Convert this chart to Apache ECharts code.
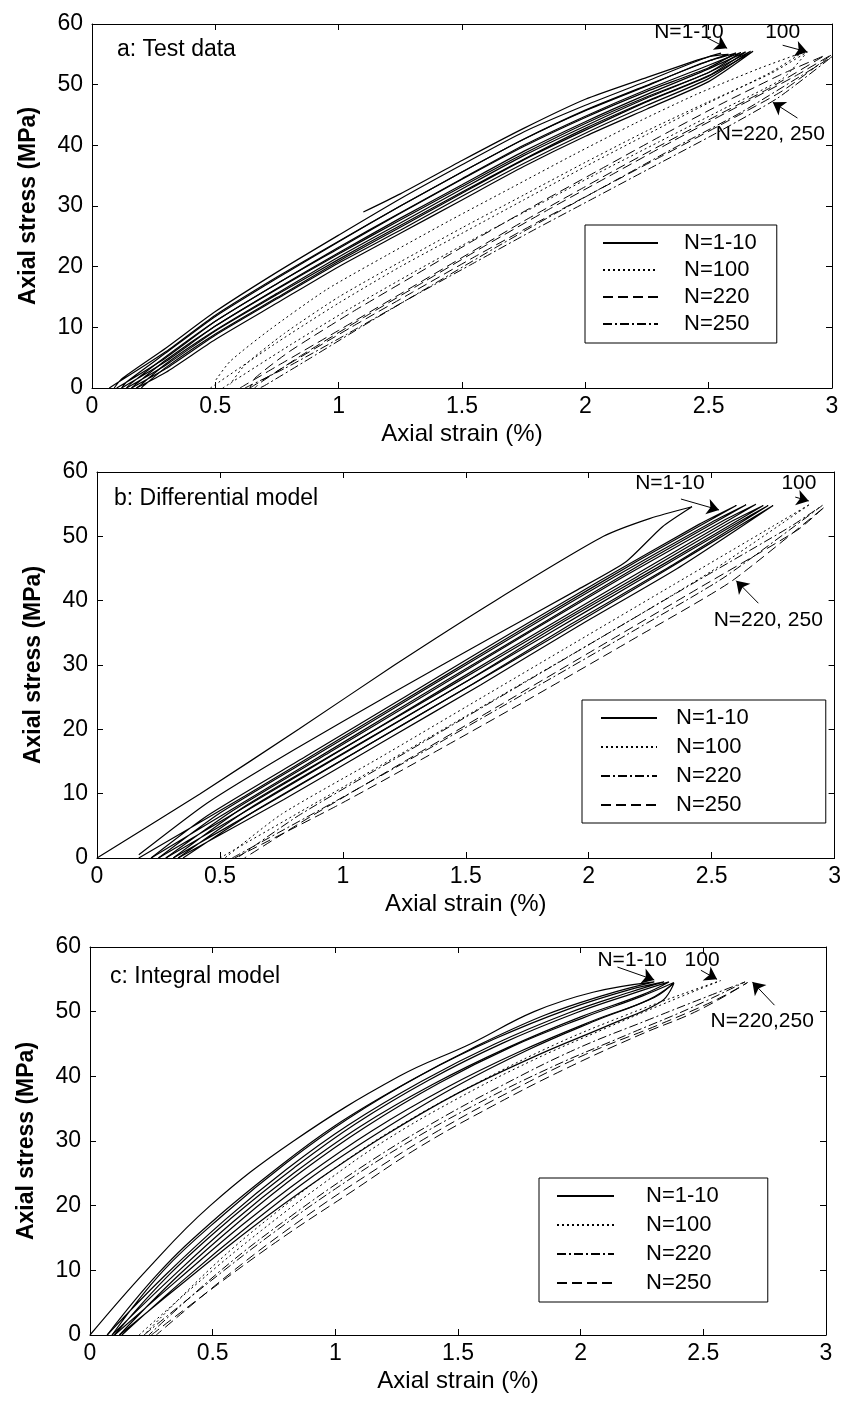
<!DOCTYPE html>
<html>
<head>
<meta charset="utf-8">
<script src="https://cdn.jsdelivr.net/npm/echarts@6/dist/echarts.min.js"></script>
<style>
  html, body { margin: 0; padding: 0; background: #fff; }
  #chart { width: 844px; height: 1407px; }
</style>
</head>
<body>
<div id="chart"></div>
<script>
// Axial strain (%) / axial stress (MPa) hysteresis loops, one array of loops per cycle group.

// ---- a: Test data ----
const testN1_10 = [
  [[0.07,0],[0.3,6],[0.5,12],[0.75,18.3],[1.0,24.2],[1.25,30],[1.5,35.6],[1.75,41],[2.0,45.7],[2.25,49.8],[2.45,53.2],[2.58,55],
   [2.5,54.6],[2.25,50.6],[2.0,46.6],[1.75,42.2],[1.5,36.8],[1.25,31.2],[1.0,25.2],[0.75,19.1],[0.5,12.6],[0.3,6.6],[0.12,1.5],[0.09,0]],
  [[0.1,0],[0.3,5],[0.5,11],[0.75,17.2],[1.0,23],[1.25,28.8],[1.5,34.4],[1.75,39.8],[2.0,44.6],[2.25,48.9],[2.5,52.8],[2.61,55.2],
   [2.5,53.9],[2.25,49.9],[2.0,45.8],[1.75,41],[1.5,35.6],[1.25,30],[1.0,24.1],[0.75,18.1],[0.5,11.8],[0.3,5.8],[0.14,1],[0.12,0]],
  [[0.12,0],[0.3,4.4],[0.5,10.2],[0.75,16.3],[1.0,22.1],[1.25,27.7],[1.5,33.2],[1.75,38.6],[2.0,43.6],[2.25,48],[2.5,52],[2.63,55.3],
   [2.5,53.2],[2.25,49.2],[2.0,44.8],[1.75,40],[1.5,34.5],[1.25,28.9],[1.0,23.2],[0.75,17.2],[0.5,11],[0.3,5.2],[0.16,0.8],[0.14,0]],
  [[0.14,0],[0.3,3.8],[0.5,9.4],[0.75,15.4],[1.0,21.2],[1.25,26.8],[1.5,32.3],[1.75,37.7],[2.0,42.8],[2.25,47.3],[2.5,51.5],[2.65,55.4],
   [2.5,52.6],[2.25,48.4],[2.0,43.9],[1.75,39],[1.5,33.5],[1.25,28],[1.0,22.3],[0.75,16.4],[0.5,10.2],[0.3,4.6],[0.18,0.7],[0.16,0]],
  [[0.16,0],[0.3,3.2],[0.5,8.7],[0.75,14.7],[1.0,20.6],[1.25,26],[1.5,31.6],[1.75,37],[2.0,42],[2.25,46.6],[2.5,51],[2.67,55.5],
   [2.5,52],[2.25,47.8],[2.0,43.2],[1.75,38.3],[1.5,32.8],[1.25,27.2],[1.0,21.6],[0.75,15.6],[0.5,9.5],[0.3,4],[0.2,0.6],[0.18,0]],
  [[0.18,0],[0.3,2.6],[0.5,8],[0.75,14],[1.0,20],[1.25,25.5],[1.5,31],[1.75,36.5],[2.0,41.5],[2.25,46],[2.5,50.5],[2.68,55.5],
   [2.5,51.4],[2.25,47.2],[2.0,42.5],[1.75,37.6],[1.5,32.1],[1.25,26.5],[1.0,20.9],[0.75,14.9],[0.5,8.9],[0.3,3.4],[0.21,0.4],[0.2,0]],
  [[1.1,29],[1.25,32],[1.5,37.5],[1.75,42.8],[2.0,47.6],[2.25,51.2],[2.45,54],[2.55,55.2]]
];
const testN100 = [
  [[0.48,0],[0.75,7.5],[1.0,14],[1.25,20],[1.5,25.5],[1.75,31],[2.0,36.5],[2.25,41.8],[2.5,47],[2.75,52],[2.88,55.3],
   [2.7,52.6],[2.45,48.4],[2.2,43.6],[1.95,38.4],[1.7,33],[1.45,27.6],[1.2,22],[0.95,16.2],[0.72,9.6],[0.56,4.4],[0.5,1.2]],
  [[0.53,0],[0.8,7],[1.05,13.2],[1.3,19],[1.55,24.6],[1.8,30],[2.05,35.4],[2.3,40.6],[2.55,45.8],[2.8,51],[2.9,55.4],
   [2.75,51.8],[2.5,47.2],[2.25,42.4],[2.0,37.2],[1.75,31.8],[1.5,26.4],[1.25,20.8],[1.0,15],[0.78,9],[0.62,3.8],[0.56,0.6]]
];
const testN220 = [
  [[0.6,0],[0.75,3.6],[1.0,9.5],[1.25,15.5],[1.5,21.5],[1.75,27.5],[2.0,33.2],[2.25,38.8],[2.5,44.2],[2.75,49.5],[2.97,54.8],
   [2.8,51.8],[2.55,46.8],[2.3,41.4],[2.05,35.8],[1.8,30.2],[1.55,24.4],[1.3,18.4],[1.05,12.4],[0.8,6],[0.66,1.6],[0.64,0]],
  [[0.64,0],[0.8,4],[1.05,10],[1.3,15.8],[1.55,21.6],[1.8,27.2],[2.05,32.6],[2.3,38],[2.55,43.4],[2.8,49],[3.0,55],
   [2.85,51.4],[2.6,46],[2.35,40.6],[2.1,35],[1.85,29.4],[1.6,23.6],[1.35,17.6],[1.1,11.6],[0.85,5.4],[0.68,0.8],[0.66,0]]
];
const testN250 = [
  [[0.62,0],[0.78,3.2],[1.03,8.8],[1.28,14.6],[1.53,20.2],[1.78,25.8],[2.03,31.2],[2.28,36.6],[2.53,42],[2.78,47.8],[3.0,54.6],
   [2.88,51.6],[2.63,45.4],[2.38,40],[2.13,34.4],[1.88,28.8],[1.63,23],[1.38,17],[1.13,11],[0.88,4.8],[0.7,0.4],[0.68,0]]
];

// ---- b: Differential model ----
const diffN1_10 = [
  [[0,0],[0.42,10],[0.82,20],[1.21,30],[1.62,40],[2.06,50],[2.25,52.8],[2.42,54.6],
   [2.3,51.5],[2.15,46],[1.95,41.6],[1.6,34.2],[1.2,25.6],[0.8,16.8],[0.45,8.6],[0.17,0.5]],
  [[0.17,0],[0.6,9.6],[1.0,18.8],[1.4,28],[1.8,37.2],[2.2,46.2],[2.6,54.8],
   [2.45,51.9],[2.05,43.2],[1.65,34.2],[1.25,25],[0.85,15.8],[0.45,6.6],[0.22,0]],
  [[0.22,0],[0.62,9.2],[1.02,18.4],[1.42,27.6],[1.82,36.7],[2.22,45.8],[2.64,54.9],
   [2.5,52.2],[2.1,43.6],[1.7,34.6],[1.3,25.4],[0.9,16.2],[0.5,7],[0.25,0]],
  [[0.25,0],[0.65,9],[1.05,18.1],[1.45,27.3],[1.85,36.4],[2.25,45.4],[2.68,55],
   [2.55,52.5],[2.15,43.9],[1.75,34.9],[1.35,25.7],[0.95,16.5],[0.55,7.3],[0.28,0]],
  [[0.28,0],[0.7,9.4],[1.1,18.4],[1.5,27.4],[1.9,36.8],[2.3,45.6],[2.71,54.8],
   [2.58,52.3],[2.2,43.8],[1.8,34.9],[1.4,25.9],[1.0,17],[0.6,8],[0.31,0]],
  [[0.31,0],[0.73,9.2],[1.13,18.2],[1.53,27.1],[1.93,36.4],[2.33,45.3],[2.73,54.8],
   [2.6,52],[2.22,43.5],[1.82,34.5],[1.42,25.6],[1.02,16.7],[0.62,7.7],[0.33,0]],
  [[0.33,0],[0.76,9.1],[1.16,18],[1.56,26.9],[1.96,36.1],[2.36,45],[2.75,54.8],
   [2.62,51.8],[2.25,43.3],[1.85,34.2],[1.45,25.3],[1.05,16.4],[0.65,7.5],[0.35,0]]
];
const diffN100 = [
  [[0.5,0],[0.9,8.8],[1.3,17.6],[1.7,26.5],[2.1,35.4],[2.5,44.6],[2.9,55],
   [2.75,51.6],[2.35,42.6],[1.95,33.6],[1.55,24.6],[1.15,15.6],[0.75,6.8],[0.52,0]]
];
const diffN220 = [
  [[0.55,0],[0.95,8.4],[1.35,17],[1.75,25.8],[2.15,34.6],[2.55,43.6],[2.95,54.8],
   [2.82,51.5],[2.42,42.6],[2.02,33.6],[1.62,24.6],[1.22,15.6],[0.82,6.6],[0.57,0]]
];
const diffN250 = [
  [[0.56,0],[0.98,8.2],[1.38,16.6],[1.78,25.2],[2.18,34],[2.58,43],[2.96,54.6],
   [2.85,51],[2.45,42],[2.05,33],[1.65,24],[1.25,15],[0.85,6],[0.6,0]]
];

// ---- c: Integral model ----
const integN1_10 = [
  [[0,0],[0.23,10],[0.49,20],[0.83,30],[1.26,40],[1.55,45],[1.81,50],[2.05,53],[2.3,54.6],
   [2.1,52.6],[1.85,49.4],[1.55,44.2],[1.3,39.2],[1.0,32.4],[0.75,25.4],[0.5,17.6],[0.28,9.6],[0.07,0]],
  [[0.07,0],[0.3,9],[0.55,17.8],[0.8,25.6],[1.05,32.4],[1.35,39.2],[1.65,45],[1.95,49.8],[2.2,53],[2.34,54.6],
   [2.2,53.4],[1.95,50.4],[1.65,45.8],[1.35,40.2],[1.05,33.4],[0.8,26.6],[0.55,18.8],[0.3,10],[0.09,0]],
  [[0.09,0],[0.33,8.8],[0.58,17.4],[0.83,25],[1.1,32.2],[1.4,38.8],[1.7,44.4],[2.0,49.2],[2.25,52.6],[2.36,54.6],
   [2.22,52.9],[1.98,49.8],[1.68,45.1],[1.38,39.4],[1.08,32.6],[0.83,25.8],[0.58,18.2],[0.33,9.6],[0.1,0]],
  [[0.1,0],[0.36,8.6],[0.62,17],[0.88,24.6],[1.15,31.6],[1.45,38.2],[1.75,43.8],[2.05,48.6],[2.3,52.2],[2.38,54.5],
   [2.25,52.4],[2.02,49.2],[1.72,44.6],[1.42,38.9],[1.12,32.1],[0.86,25.2],[0.61,17.6],[0.36,9.2],[0.12,0]],
  [[0.12,0],[0.39,8.4],[0.66,16.6],[0.93,24],[1.2,30.8],[1.5,37.4],[1.82,43.2],[2.12,48],[2.33,51.6],[2.38,54.4],
   [2.28,51.9],[2.06,48.6],[1.78,44],[1.48,38.2],[1.18,31.4],[0.91,24.6],[0.65,17],[0.39,8.8],[0.13,0]]
];
const integN100 = [
  [[0.2,0],[0.45,8.4],[0.7,16.2],[0.95,23.4],[1.2,30],[1.5,36.6],[1.8,42.4],[2.1,47.4],[2.35,51.4],[2.57,54.8],
   [2.42,52.8],[2.18,49.4],[1.9,45],[1.6,39.4],[1.3,33.2],[1.02,26.4],[0.76,19],[0.5,10.6],[0.22,0]]
];
const integN220 = [
  [[0.22,0],[0.48,8],[0.74,15.6],[1.0,22.6],[1.27,29.2],[1.57,35.6],[1.88,41.4],[2.2,46.6],[2.45,50.6],[2.67,54.6],
   [2.52,52.4],[2.28,48.8],[1.98,44.2],[1.68,38.6],[1.38,32.4],[1.1,25.8],[0.82,18.4],[0.54,10.2],[0.24,0]]
];
const integN250 = [
  [[0.25,0],[0.52,7.8],[0.79,15.2],[1.06,22],[1.34,29],[1.64,35.4],[1.94,41.2],[2.24,46.4],[2.48,50.2],[2.68,54.5],
   [2.55,51.8],[2.32,48],[2.02,43.4],[1.72,37.8],[1.42,31.6],[1.14,25],[0.86,17.8],[0.58,9.8],[0.27,0]]
];

const groupNames = ['N=1-10', 'N=100', 'N=220', 'N=250'];
const panelTitles = ['a: Test data', 'b: Differential model', 'c: Integral model'];
const xTickMax = 3, xTickStep = 0.5, yTickMax = 60, yTickStep = 10;

const FONT = '"Liberation Sans", Arial, Helvetica, sans-serif';
const INK = '#000';

const solid = { type: 'solid', width: 1.2, color: INK };
const dotted = { type: [2, 3], width: 1, color: INK };
const longDash = { type: [10, 5], width: 1, color: INK };
const dashDot = { type: [9, 3, 2, 3], width: 1, color: INK };

// panel layout (pixels) and per-panel legend boxes
const panels = [
  { key: 'a', grid: { left: 92, top: 24, width: 740, height: 364 },
    groups: [testN1_10, testN100, testN220, testN250], styles: [solid, dotted, longDash, dashDot], smooth: 0.2,
    legend: { left: 585, top: 225, padding: [7, 20, 8, 17], itemWidth: 55, itemGap: 5, textPad: 21 },
    title: { left: 117, top: 38 } },
  { key: 'b', grid: { left: 97, top: 472, width: 739, height: 386 },
    groups: [diffN1_10, diffN100, diffN220, diffN250], styles: [solid, dotted, dashDot, longDash], smooth: 0.2,
    legend: { left: 582, top: 700, padding: [7, 77, 7, 18], itemWidth: 56, itemGap: 7, textPad: 14 },
    title: { left: 114, top: 487 } },
  { key: 'c', grid: { left: 90, top: 947, width: 736, height: 388 },
    groups: [integN1_10, integN100, integN220, integN250], styles: [solid, dotted, dashDot, longDash], smooth: 0.4,
    legend: { left: 539, top: 1178, padding: [7, 49, 8, 17], itemWidth: 57, itemGap: 7, textPad: 27 },
    title: { left: 110, top: 965 } }
];

// arrows [tail, tip] and their labels, in data units of each panel
const arrowNotes = [
  [ { text: 'N=1-10', at: [2.42, 58.6], tail: [2.49, 57.8], tip: [2.575, 56.0] },
    { text: '100', at: [2.80, 58.6], tail: [2.80, 56.5], tip: [2.90, 55.4] },
    { text: 'N=220, 250', at: [2.75, 41.8], tail: [2.86, 44.5], tip: [2.76, 47.1] } ],
  [ { text: 'N=1-10', at: [2.33, 58.3], tail: [2.375, 55.8], tip: [2.53, 54.1] },
    { text: '100', at: [2.855, 58.3], tail: [2.84, 56.1], tip: [2.895, 55.5] },
    { text: 'N=220, 250', at: [2.73, 37.0], tail: [2.69, 39.6], tip: [2.60, 43.1] } ],
  [ { text: 'N=1-10', at: [2.21, 58.0], tail: [2.15, 56.9], tip: [2.30, 54.9] },
    { text: '100', at: [2.495, 58.0], tail: [2.49, 56.4], tip: [2.556, 55.0] },
    { text: 'N=220,250', at: [2.74, 48.6], tail: [2.79, 51.0], tip: [2.70, 54.6] } ]
];

const grids = [], xAxes = [], yAxes = [], series = [], legends = [], titles = [];

panels.forEach((p, i) => {
  grids.push(Object.assign({ containLabel: false }, p.grid));
  const tick = { show: true, inside: true, length: 6, lineStyle: { color: INK, width: 1 } };
  const line = { show: true, onZero: false, lineStyle: { color: INK, width: 1 } };
  xAxes.push({
    type: 'value', gridIndex: i, min: 0, max: xTickMax, interval: xTickStep, position: 'bottom',
    axisLine: line, axisTick: tick, splitLine: { show: false },
    axisLabel: { color: INK, fontFamily: FONT, fontSize: 23, margin: 7 },
    name: 'Axial strain (%)', nameLocation: 'middle', nameGap: 34,
    nameTextStyle: { color: INK, fontFamily: FONT, fontSize: 24 }
  });
  xAxes.push({
    type: 'value', gridIndex: i, min: 0, max: xTickMax, interval: xTickStep, position: 'top',
    axisLine: line, axisTick: tick, axisLabel: { show: false }, splitLine: { show: false }
  });
  yAxes.push({
    type: 'value', gridIndex: i, min: 0, max: yTickMax, interval: yTickStep, position: 'left',
    axisLine: line, axisTick: tick, splitLine: { show: false },
    axisLabel: { color: INK, fontFamily: FONT, fontSize: 23, margin: 9 },
    name: 'Axial stress (MPa)', nameLocation: 'middle', nameGap: 52,
    nameTextStyle: { color: INK, fontFamily: FONT, fontSize: 23, fontWeight: 'bold' }
  });
  yAxes.push({
    type: 'value', gridIndex: i, min: 0, max: yTickMax, interval: yTickStep, position: 'right',
    axisLine: line, axisTick: tick, axisLabel: { show: false }, splitLine: { show: false }
  });

  p.groups.forEach((loops, g) => {
    loops.forEach((loop, k) => {
      const s = {
        type: 'line', name: p.key + groupNames[g], xAxisIndex: 2 * i, yAxisIndex: 2 * i,
        data: loop, showSymbol: false, symbol: 'none', clip: true, animation: false,
        smooth: p.smooth, lineStyle: p.styles[g], itemStyle: { color: INK }, z: 2
      };
      if (g === 0 && k === 0) {
        s.markLine = {
          silent: true, animation: false, symbol: ['none', 'arrow'], symbolSize: 12,
          label: { show: false }, lineStyle: { color: INK, width: 1, type: 'solid' },
          data: arrowNotes[i].map(n => [{ coord: n.tail }, { coord: n.tip }])
        };
      }
      series.push(s);
    });
  });

  const L = p.legend;
  legends.push({
    data: groupNames.map(n => p.key + n), formatter: n => n.slice(1),
    orient: 'vertical', left: L.left, top: L.top, padding: L.padding,
    itemWidth: L.itemWidth, itemHeight: 20, itemGap: L.itemGap, selectedMode: false,
    itemStyle: { opacity: 0, borderWidth: 0 },
    borderColor: INK, borderWidth: 1, backgroundColor: '#fff',
    textStyle: { color: INK, fontFamily: FONT, fontSize: 22, lineHeight: 20, padding: [0, 0, 0, L.textPad] }
  });

  titles.push({
    text: panelTitles[i], left: p.title.left, top: p.title.top, padding: 0,
    textStyle: { color: INK, fontFamily: FONT, fontSize: 23, fontWeight: 'normal' }
  });
});

const chart = echarts.init(document.getElementById('chart'), null, { renderer: 'canvas' });
chart.setOption({
  animation: false, backgroundColor: '#fff',
  title: titles, grid: grids, xAxis: xAxes, yAxis: yAxes, legend: legends, series: series
});

// arrow labels placed through each panel's scales
const labels = [];
arrowNotes.forEach((list, i) => {
  list.forEach(n => {
    const pt = chart.convertToPixel({ gridIndex: i }, n.at);
    labels.push({
      type: 'text', x: pt[0], y: pt[1], z: 10,
      style: { text: n.text, fill: INK, font: '21px ' + FONT, align: 'center', verticalAlign: 'middle' }
    });
  });
});
chart.setOption({ graphic: labels });
</script>
</body>
</html>
